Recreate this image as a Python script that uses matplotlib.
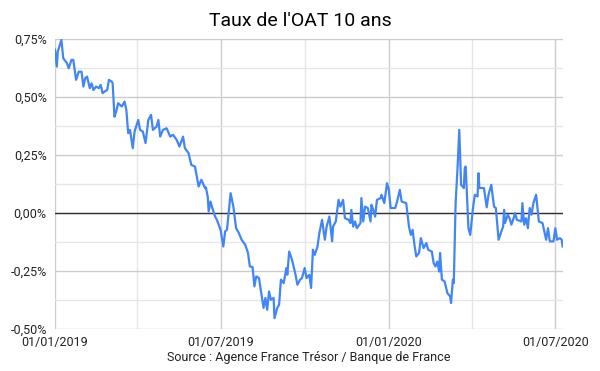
import numpy as np
import pandas as pd
import matplotlib
matplotlib.use('Agg')
import matplotlib.pyplot as plt
import matplotlib.dates as mdates
from matplotlib.ticker import FuncFormatter, MultipleLocator

plt.rcParams['font.family'] = ['Roboto', 'DejaVu Sans']

# dates et taux (en %)
dates = [
    '2019-01-01', '2019-01-03', '2019-01-04', '2019-01-08', '2019-01-10', '2019-01-14',
    '2019-01-16', '2019-01-19', '2019-01-21', '2019-01-24', '2019-01-27', '2019-01-30',
    '2019-02-01', '2019-02-03', '2019-02-05', '2019-02-08', '2019-02-10', '2019-02-12',
    '2019-02-15', '2019-02-18', '2019-02-20', '2019-02-22', '2019-02-24', '2019-02-27',
    '2019-03-01', '2019-03-04', '2019-03-05', '2019-03-07', '2019-03-09', '2019-03-11',
    '2019-03-15', '2019-03-18', '2019-03-20', '2019-03-22', '2019-03-24', '2019-03-27',
    '2019-03-29', '2019-04-02', '2019-04-04', '2019-04-07', '2019-04-10', '2019-04-13',
    '2019-04-16', '2019-04-18', '2019-04-22', '2019-04-24', '2019-04-26', '2019-04-29',
    '2019-05-03', '2019-05-07', '2019-05-10', '2019-05-14', '2019-05-17', '2019-05-21',
    '2019-05-23', '2019-05-27', '2019-05-30', '2019-06-03', '2019-06-07', '2019-06-10',
    '2019-06-14', '2019-06-15', '2019-06-17', '2019-06-18', '2019-06-20', '2019-06-22',
    '2019-06-25', '2019-06-27', '2019-07-01', '2019-07-04', '2019-07-06', '2019-07-08',
    '2019-07-12', '2019-07-15', '2019-07-18', '2019-07-21', '2019-07-24', '2019-07-28',
    '2019-07-31', '2019-08-02', '2019-08-05', '2019-08-07', '2019-08-09', '2019-08-12',
    '2019-08-15', '2019-08-17', '2019-08-19', '2019-08-21', '2019-08-23', '2019-08-25',
    '2019-08-28', '2019-08-29', '2019-09-01', '2019-09-03', '2019-09-05', '2019-09-08',
    '2019-09-11', '2019-09-12', '2019-09-14', '2019-09-16', '2019-09-18', '2019-09-21',
    '2019-09-23', '2019-09-26', '2019-09-28', '2019-10-01', '2019-10-03', '2019-10-06',
    '2019-10-08', '2019-10-10', '2019-10-12', '2019-10-15', '2019-10-17', '2019-10-20',
    '2019-10-23', '2019-10-25', '2019-10-28', '2019-10-31', '2019-11-01', '2019-11-04',
    '2019-11-07', '2019-11-09', '2019-11-12', '2019-11-14', '2019-11-18', '2019-11-20',
    '2019-11-21', '2019-11-23', '2019-11-25', '2019-11-27', '2019-12-01', '2019-12-02',
    '2019-12-04', '2019-12-06', '2019-12-09', '2019-12-12', '2019-12-13', '2019-12-15',
    '2019-12-17', '2019-12-19', '2019-12-23', '2019-12-24', '2019-12-27', '2019-12-30',
    '2020-01-01', '2020-01-03', '2020-01-08', '2020-01-10', '2020-01-13', '2020-01-15',
    '2020-01-20', '2020-01-23', '2020-01-25', '2020-01-27', '2020-01-29', '2020-01-31',
    '2020-02-03', '2020-02-05', '2020-02-08', '2020-02-11', '2020-02-13', '2020-02-17',
    '2020-02-19', '2020-02-21', '2020-02-23', '2020-02-25', '2020-02-26', '2020-02-28',
    '2020-03-02', '2020-03-05', '2020-03-08', '2020-03-09', '2020-03-11', '2020-03-12',
    '2020-03-14', '2020-03-16', '2020-03-18', '2020-03-20', '2020-03-23', '2020-03-24',
    '2020-03-25', '2020-03-28', '2020-03-30', '2020-04-02', '2020-04-04', '2020-04-07',
    '2020-04-08', '2020-04-09', '2020-04-14', '2020-04-17', '2020-04-19', '2020-04-22',
    '2020-04-25', '2020-04-27', '2020-04-30', '2020-05-03', '2020-05-05', '2020-05-06',
    '2020-05-07', '2020-05-10', '2020-05-12', '2020-05-14', '2020-05-17', '2020-05-18',
    '2020-05-20', '2020-05-25', '2020-05-26', '2020-05-28', '2020-05-30', '2020-06-01',
    '2020-06-03', '2020-06-05', '2020-06-07', '2020-06-10', '2020-06-13', '2020-06-17',
    '2020-06-19', '2020-06-21', '2020-06-23', '2020-06-25', '2020-06-29', '2020-07-01',
    '2020-07-03', '2020-07-06', '2020-07-08', '2020-07-09',
]
taux = [
    0.704, 0.632, 0.697, 0.747, 0.668, 0.647,
    0.625, 0.661, 0.661, 0.575, 0.610, 0.610,
    0.546, 0.582, 0.589, 0.539, 0.560, 0.531,
    0.546, 0.539, 0.553, 0.517, 0.524, 0.531,
    0.575, 0.567, 0.560, 0.416, 0.440, 0.474,
    0.460, 0.481, 0.445, 0.345, 0.359, 0.280,
    0.352, 0.402, 0.359, 0.352, 0.302, 0.402,
    0.424, 0.359, 0.373, 0.402, 0.330, 0.359,
    0.366, 0.330, 0.338, 0.316, 0.287, 0.330,
    0.280, 0.259, 0.208, 0.201, 0.115, 0.144,
    0.108, 0.110, 0.070, 0.007, 0.050, 0.022,
    -0.015, -0.029, -0.072, -0.144, -0.079, -0.072,
    0.086, 0.028, -0.065, -0.086, -0.115, -0.137,
    -0.172, -0.230, -0.233, -0.316, -0.273, -0.280,
    -0.359, -0.409, -0.366, -0.417, -0.338, -0.374,
    -0.366, -0.453, -0.409, -0.395, -0.287, -0.302,
    -0.237, -0.266, -0.166, -0.187, -0.216, -0.266,
    -0.309, -0.287, -0.280, -0.237, -0.280, -0.266,
    -0.323, -0.158, -0.180, -0.144, -0.086, -0.029,
    -0.115, -0.058, -0.015, -0.122, -0.058, -0.036,
    0.057, 0.028, 0.057, -0.022, -0.029, -0.043,
    0.014, -0.058, -0.036, -0.065, -0.043, 0.065,
    -0.036, 0.028, 0.022, -0.036, 0.036, 0.014,
    -0.015, 0.057, 0.065, 0.079, 0.043, 0.129,
    0.100, 0.022, 0.022, 0.050, 0.100, 0.050,
    0.043, -0.058, -0.094, -0.072, -0.137, -0.187,
    -0.172, -0.108, -0.151, -0.129, -0.158, -0.166,
    -0.216, -0.230, -0.209, -0.252, -0.172, -0.287,
    -0.295, -0.345, -0.359, -0.388, -0.287, -0.302,
    0.043, 0.187, 0.359, 0.122, 0.108, 0.194,
    0.201, -0.065, -0.094, 0.022, 0.079, 0.072,
    0.172, 0.108, 0.108, 0.025, 0.080, 0.122,
    0.028, 0.022, -0.115, -0.079, -0.058, 0.014,
    -0.043, -0.007, -0.022, -0.050, -0.015, 0.000,
    -0.029, -0.036, 0.043, -0.050, -0.022, -0.065,
    0.022, -0.007, 0.043, 0.079, -0.036, -0.043,
    -0.079, -0.115, -0.065, -0.122, -0.122, -0.065,
    -0.115, -0.108, -0.115, -0.144,
]
tick_dates = ['2019-01-01', '2019-07-01', '2020-01-01', '2020-07-01']
minor_dates = ['2019-04-01', '2019-10-01', '2020-04-01']

x = pd.to_datetime(dates)

fig = plt.figure(figsize=(6, 3.71), dpi=100)
ax = fig.add_axes([0.0917, 0.1132, 0.846, 0.781])

ax.plot(x, taux, color='#4285F4', lw=1.6, zorder=3)
ax.axhline(0, color='#333333', lw=1, zorder=2)

ax.set_xlim(pd.Timestamp('2019-01-01'), pd.Timestamp('2020-07-09'))
ax.set_ylim(-0.5, 0.75)

ax.set_xticks(pd.to_datetime(tick_dates))
ax.set_xticks(pd.to_datetime(minor_dates), minor=True)
ax.xaxis.set_major_formatter(mdates.DateFormatter('%d/%m/%Y'))
ax.yaxis.set_major_locator(MultipleLocator(0.25))
ax.yaxis.set_minor_locator(MultipleLocator(0.125))
ax.yaxis.set_major_formatter(FuncFormatter(lambda v, p: f'{v:.2f}%'.replace('.', ',')))

ax.grid(which='major', color='#cccccc', lw=1)
ax.grid(which='minor', color='#e6e6e6', lw=1)
ax.set_axisbelow(True)
ax.tick_params(which='both', length=0, labelsize=9, colors='#222222')
ax.tick_params(axis='x', pad=5)
ax.tick_params(axis='y', pad=6)
for s in ax.spines.values():
    s.set_visible(False)

fig.text(0.5, 0.943, "Taux de l'OAT 10 ans", ha='center', va='center', fontsize=14, color='#000000')
ax.text(0.5, -0.1, 'Source : Agence France Trésor / Banque de France', transform=ax.transAxes,
        ha='center', va='center', fontsize=9, color='#222222')

fig.savefig('out.png', dpi=100)
